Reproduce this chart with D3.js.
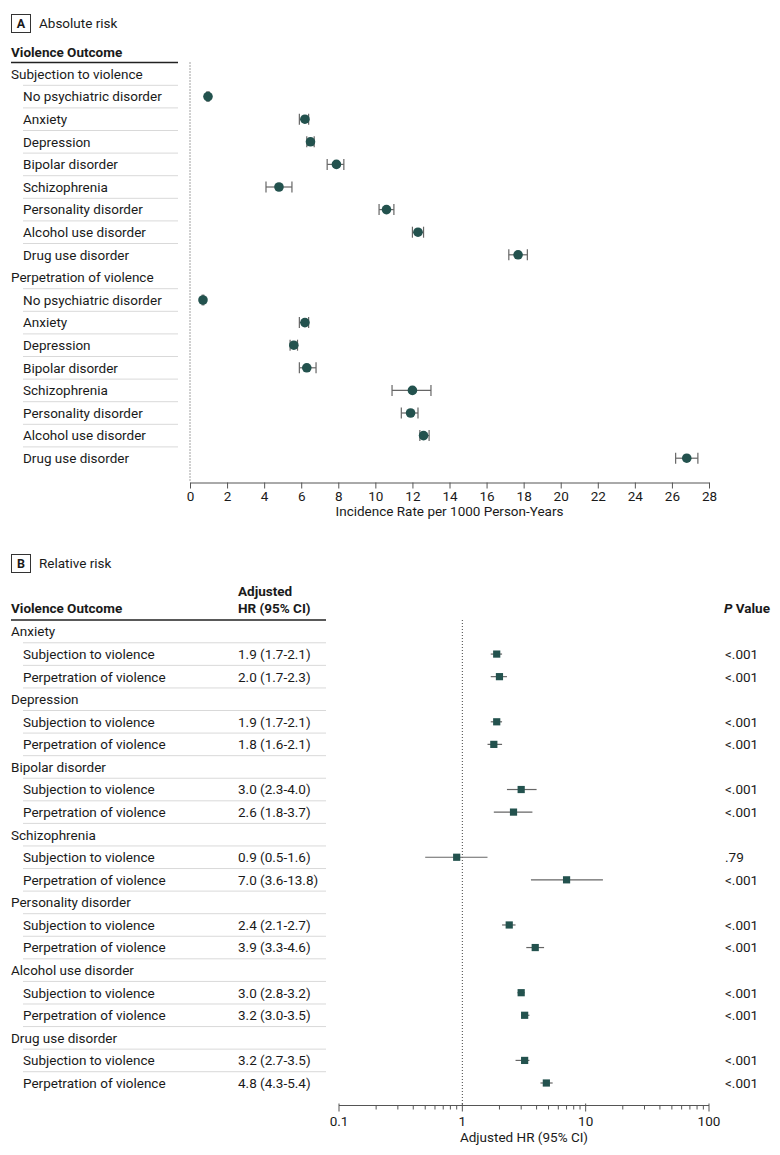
<!DOCTYPE html>
<html><head><meta charset="utf-8">
<script src="https://cdn.jsdelivr.net/npm/d3@7"></script>
<style>
html,body{margin:0;padding:0;background:#fff;}
svg{display:block;font-family:Roboto,"Open Sans",sans-serif;}
text{fill:#1a1a1a;}
</style></head>
<body>
<svg id="chart" width="780" height="1155"></svg>
<script>
// ---------- Panel A data ----------
const groupsA = ["Subjection to violence", "Perpetration of violence"];
const disordersA = ["No psychiatric disorder","Anxiety","Depression","Bipolar disorder","Schizophrenia","Personality disorder","Alcohol use disorder","Drug use disorder"];
const subjRate = [0.97, 6.2, 6.5, 7.9, 4.8, 10.6, 12.3, 17.7];
const subjLow  = [0.92, 5.9, 6.3, 7.4, 4.1, 10.2, 12.0, 17.2];
const subjHigh = [1.02, 6.4, 6.7, 8.3, 5.5, 11.0, 12.6, 18.2];
const perpRate = [0.7, 6.2, 5.6, 6.3, 12.0, 11.9, 12.6, 26.8];
const perpLow  = [0.66, 5.9, 5.4, 5.9, 10.9, 11.4, 12.4, 26.2];
const perpHigh = [0.74, 6.4, 5.8, 6.8, 13.0, 12.3, 12.9, 27.4];
const ticksA = [0,2,4,6,8,10,12,14,16,18,20,22,24,26,28];

// ---------- Panel B data ----------
const disordersB = ["Anxiety","Depression","Bipolar disorder","Schizophrenia","Personality disorder","Alcohol use disorder","Drug use disorder"];
const outcomesB = ["Subjection to violence","Perpetration of violence"];
const subjHR   = [1.9, 1.9, 3.0, 0.9, 2.4, 3.0, 3.2];
const subjHRlo = [1.7, 1.7, 2.3, 0.5, 2.1, 2.8, 2.7];
const subjHRhi = [2.1, 2.1, 4.0, 1.6, 2.7, 3.2, 3.5];
const perpHR   = [2.0, 1.8, 2.6, 7.0, 3.9, 3.2, 4.8];
const perpHRlo = [1.7, 1.6, 1.8, 3.6, 3.3, 3.0, 4.3];
const perpHRhi = [2.3, 2.1, 3.7, 13.8, 4.6, 3.5, 5.4];
const pSubj = ["<.001","<.001","<.001",".79","<.001","<.001","<.001"];
const pPerp = ["<.001","<.001","<.001","<.001","<.001","<.001","<.001"];
const ticksB = [0.1, 1, 10, 100];
const tickLabelsB = ["0.1","1","10","100"];

const svg = d3.select("#chart");
const FS = 13.5;
const markColor = "#23524e";
const ciColor = "#666";

function panelTitle(y, letter, title){
  svg.append("rect").attr("x",11.5).attr("y",y-9).attr("width",19).attr("height",18)
    .attr("fill","none").attr("stroke","#333").attr("stroke-width",1);
  svg.append("text").attr("x",21).attr("y",y).attr("dy","0.36em").attr("text-anchor","middle")
    .attr("font-weight","bold").attr("font-size",12.5).text(letter);
  svg.append("text").attr("x",39).attr("y",y).attr("dy","0.36em").attr("font-size",FS).text(title);
}

// ================= Panel A =================
panelTitle(23.5, "A", "Absolute risk");
svg.append("text").attr("x",11).attr("y",52.5).attr("dy","0.36em").attr("font-weight","bold")
  .attr("font-size",FS).text("Violence Outcome");
svg.append("line").attr("x1",11).attr("x2",178).attr("y1",62.5).attr("y2",62.5)
  .attr("stroke","#222").attr("stroke-width",1.3);

const rowsA = [];
groupsA.forEach((g,gi)=>{
  rowsA.push({label:g, header:true});
  disordersA.forEach((d,di)=>{
    const v = gi===0 ? [subjRate[di],subjLow[di],subjHigh[di]] : [perpRate[di],perpLow[di],perpHigh[di]];
    rowsA.push({label:d, header:false, est:v[0], lo:v[1], hi:v[2], last: di===disordersA.length-1});
  });
});
const yA = d3.scaleLinear().domain([0, rowsA.length-1]).range([74, 458.2]);
const xA = d3.scaleLinear().domain([0,28]).range([190,709]);
const axisYA = 482.5;

// separators
rowsA.forEach((r,i)=>{
  if(i < rowsA.length-1 && !r.last){
    svg.append("line").attr("x1",23).attr("x2",178)
      .attr("y1",(yA(i)+yA(i+1))/2).attr("y2",(yA(i)+yA(i+1))/2)
      .attr("stroke","#d9d9d9").attr("stroke-width",1);
  }
  svg.append("text").attr("x", r.header?11:23).attr("y",yA(i)).attr("dy","0.36em")
    .attr("font-size",FS).text(r.label);
});
// reference dotted line
svg.append("line").attr("x1",xA(0)).attr("x2",xA(0)).attr("y1",62.5).attr("y2",axisYA)
  .attr("stroke","#444").attr("stroke-width",1).attr("stroke-dasharray","1,2");
// CI + points
rowsA.forEach((r,i)=>{
  if(r.header) return;
  const y = yA(i);
  const g = svg.append("g");
  g.append("line").attr("x1",xA(r.lo)).attr("x2",xA(r.hi)).attr("y1",y).attr("y2",y)
    .attr("stroke",ciColor).attr("stroke-width",1.2);
  [r.lo,r.hi].forEach(v=>{
    g.append("line").attr("x1",xA(v)).attr("x2",xA(v)).attr("y1",y-5.5).attr("y2",y+5.5)
      .attr("stroke",ciColor).attr("stroke-width",1.2);
  });
  g.append("circle").attr("cx",xA(r.est)).attr("cy",y).attr("r",4.8).attr("fill",markColor);
});
// axis
const axA = svg.append("g").attr("transform",`translate(0,${axisYA})`)
  .call(d3.axisBottom(xA).tickValues(ticksA).tickSize(6).tickPadding(3).tickSizeOuter(0));
axA.select(".domain").attr("stroke","#555");
axA.selectAll(".tick line").attr("stroke","#555");
axA.selectAll(".tick text").attr("font-size",FS).attr("font-family","Roboto").attr("fill","#1a1a1a");
svg.append("text").attr("x",(xA(0)+xA(28))/2).attr("y",511).attr("dy","0.36em").attr("text-anchor","middle")
  .attr("font-size",FS).text("Incidence Rate per 1000 Person-Years");

// ================= Panel B =================
panelTitle(563.5, "B", "Relative risk");
svg.append("text").attr("x",11).attr("y",608.5).attr("dy","0.36em").attr("font-weight","bold")
  .attr("font-size",FS).text("Violence Outcome");
svg.append("text").attr("x",238).attr("y",591.5).attr("dy","0.36em").attr("font-weight","bold")
  .attr("font-size",FS).text("Adjusted");
svg.append("text").attr("x",238).attr("y",608.5).attr("dy","0.36em").attr("font-weight","bold")
  .attr("font-size",FS).text("HR (95% CI)");
const pv = svg.append("text").attr("x",724).attr("y",608.5).attr("dy","0.36em").attr("font-weight","bold")
  .attr("font-size",FS);
pv.append("tspan").attr("font-style","italic").text("P");
pv.append("tspan").text(" Value");
svg.append("line").attr("x1",11).attr("x2",326).attr("y1",620).attr("y2",620)
  .attr("stroke","#222").attr("stroke-width",1.3);

const rowsB = [];
disordersB.forEach((d,di)=>{
  rowsB.push({label:d, header:true});
  rowsB.push({label:outcomesB[0], header:false, est:subjHR[di], lo:subjHRlo[di], hi:subjHRhi[di], p:pSubj[di]});
  rowsB.push({label:outcomesB[1], header:false, est:perpHR[di], lo:perpHRlo[di], hi:perpHRhi[di], p:pPerp[di]});
});
const yB = d3.scaleLinear().domain([0, rowsB.length-1]).range([631.5, 1083]);
const xB = d3.scaleLog().domain([0.1,100]).range([339,709]);
const axisYB = 1105.5;
const fmt = d3.format(".1f");

rowsB.forEach((r,i)=>{
  if(i < rowsB.length-1){
    svg.append("line").attr("x1",23).attr("x2",326)
      .attr("y1",(yB(i)+yB(i+1))/2).attr("y2",(yB(i)+yB(i+1))/2)
      .attr("stroke","#d9d9d9").attr("stroke-width",1);
  }
  svg.append("text").attr("x", r.header?11:23).attr("y",yB(i)).attr("dy","0.36em")
    .attr("font-size",FS).text(r.label);
  if(!r.header){
    svg.append("text").attr("x",238).attr("y",yB(i)).attr("dy","0.36em")
      .attr("font-size",FS).text(`${fmt(r.est)} (${fmt(r.lo)}-${fmt(r.hi)})`);
    svg.append("text").attr("x",725).attr("y",yB(i)).attr("dy","0.36em")
      .attr("font-size",FS).text(r.p);
  }
});
svg.append("line").attr("x1",xB(1)).attr("x2",xB(1)).attr("y1",620).attr("y2",axisYB)
  .attr("stroke","#444").attr("stroke-width",1).attr("stroke-dasharray","1,2");
rowsB.forEach((r,i)=>{
  if(r.header) return;
  const y = yB(i);
  svg.append("line").attr("x1",xB(r.lo)).attr("x2",xB(r.hi)).attr("y1",y).attr("y2",y)
    .attr("stroke","#666").attr("stroke-width",1.2);
  svg.append("rect").attr("x",xB(r.est)-3.6).attr("y",y-3.6).attr("width",7.2).attr("height",7.2)
    .attr("fill",markColor);
});
// log axis
const minorB = [];
for(let dec of [0.1,1,10]) for(let k=2;k<=9;k++) minorB.push(dec*k);
const axB = svg.append("g").attr("transform",`translate(0,${axisYB})`);
axB.append("line").attr("x1",xB(0.1)).attr("x2",xB(100)).attr("stroke","#555");
axB.selectAll(".minor").data(minorB).join("line").attr("class","minor")
  .attr("x1",d=>xB(d)).attr("x2",d=>xB(d)).attr("y1",0).attr("y2",4).attr("stroke","#555");
axB.selectAll(".major").data(ticksB).join("line").attr("class","major")
  .attr("x1",d=>xB(d)).attr("x2",d=>xB(d)).attr("y1",-2).attr("y2",6).attr("stroke","#555");
axB.selectAll(".lbl").data(ticksB).join("text").attr("class","lbl")
  .attr("x",d=>xB(d)).attr("y",16).attr("dy","0.36em").attr("text-anchor","middle")
  .attr("font-size",FS).text((d,i)=>tickLabelsB[i]);
svg.append("text").attr("x",(xB(0.1)+xB(100))/2).attr("y",1137).attr("dy","0.36em").attr("text-anchor","middle")
  .attr("font-size",FS).text("Adjusted HR (95% CI)");
</script>
</body></html>
